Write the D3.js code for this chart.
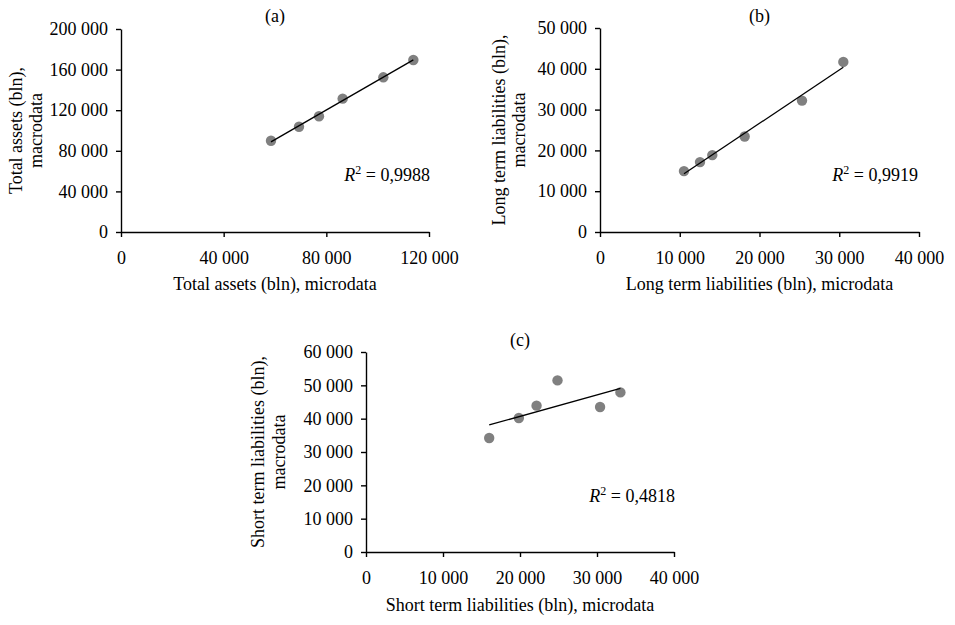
<!DOCTYPE html>
<html>
<head>
<meta charset="utf-8">
<script src="https://cdn.jsdelivr.net/npm/d3@7"></script>
<style>
  body { margin: 0; background: #fff; }
  svg { display: block; }
</style>
</head>
<body>
<svg id="chart" width="955" height="625"></svg>
<script>
// (a) Total assets (bln): microdata vs macrodata
const assetsMicro = [58440, 69350, 77140, 86360, 102200, 113900];
const assetsMacro = [89950, 103700, 114000, 131400, 152400, 169500];
const assetsR2 = "0,9988";
const assetsXTicks = [0, 40000, 80000, 120000];
const assetsYTicks = [0, 40000, 80000, 120000, 160000, 200000];

// (b) Long term liabilities (bln)
const longMicro = [10530, 12540, 14080, 18140, 25330, 30510];
const longMacro = [14930, 17130, 18845, 23400, 32210, 41680];
const longR2 = "0,9919";
const longXTicks = [0, 10000, 20000, 30000, 40000];
const longYTicks = [0, 10000, 20000, 30000, 40000, 50000];

// (c) Short term liabilities (bln)
const shortMicro = [16000, 19850, 22150, 24870, 30400, 33040];
const shortMacro = [34200, 40200, 43900, 51480, 43500, 47880];
const shortR2 = "0,4818";
const shortXTicks = [0, 10000, 20000, 30000, 40000];
const shortYTicks = [0, 10000, 20000, 30000, 40000, 50000, 60000];

const panelLabels = ["(a)", "(b)", "(c)"];
const xTitles = [
  "Total assets (bln), microdata",
  "Long term liabilities (bln), microdata",
  "Short term liabilities (bln), microdata"
];
const yTitles = [
  ["Total assets (bln),", "macrodata"],
  ["Long term liabilities (bln),", "macrodata"],
  ["Short term liabilities (bln),", "macrodata"]
];

const FONT = "'Liberation Serif', 'Times New Roman', serif";
const FS = 18;
const locale = d3.formatLocale({ decimal: ",", thousands: " ", grouping: [3], currency: ["", ""] });
const fmt = locale.format(",d");

// Plot-area frames for the three panels
const panels = [
  { x: assetsMicro, y: assetsMacro, r2: assetsR2, xt: assetsXTicks, yt: assetsYTicks,
    left: 121, right: 429, top: 29, bottom: 232, yTitleX: [22, 42], xTitleY: 290, titleY: 22, r2Pos: [430, 181] },
  { x: longMicro, y: longMacro, r2: longR2, xt: longXTicks, yt: longYTicks,
    left: 600, right: 919, top: 28, bottom: 232, yTitleX: [505, 525], xTitleY: 290, titleY: 22, r2Pos: [918, 181] },
  { x: shortMicro, y: shortMacro, r2: shortR2, xt: shortXTicks, yt: shortYTicks,
    left: 366, right: 674, top: 352, bottom: 552, yTitleX: [264, 285], xTitleY: 611, titleY: 346, r2Pos: [675, 502] }
];

const svg = d3.select("#chart")
  .attr("font-family", FONT)
  .attr("font-size", FS);

function fitLine(xs, ys) {
  const mx = d3.mean(xs), my = d3.mean(ys);
  let sxy = 0, sxx = 0;
  xs.forEach((x, i) => { sxy += (x - mx) * (ys[i] - my); sxx += (x - mx) * (x - mx); });
  const b = sxy / sxx;
  return x => my + b * (x - mx);
}

panels.forEach((p, idx) => {
  const g = svg.append("g");
  const xs = d3.scaleLinear().domain(d3.extent(p.xt)).range([p.left, p.right]);
  const ys = d3.scaleLinear().domain(d3.extent(p.yt)).range([p.bottom, p.top]);

  // axes
  const xAxis = d3.axisBottom(xs).tickValues(p.xt).tickFormat(fmt)
    .tickSizeInner(5).tickSizeOuter(0).tickPadding(14);
  const yAxis = d3.axisLeft(ys).tickValues(p.yt).tickFormat(fmt)
    .tickSizeInner(5).tickSizeOuter(0).tickPadding(8);

  const gx = g.append("g").attr("transform", `translate(0,${p.bottom})`).call(xAxis);
  const gy = g.append("g").attr("transform", `translate(${p.left},0)`).call(yAxis);
  [gx, gy].forEach(a => {
    a.attr("font-family", FONT).attr("font-size", FS);
    a.selectAll("path, line").attr("stroke", "#000").attr("stroke-width", 1.4);
    a.selectAll("text").attr("fill", "#000");
  });

  // points
  const pts = p.x.map((v, i) => [v, p.y[i]]);
  g.append("g").selectAll("circle").data(pts).join("circle")
    .attr("cx", d => xs(d[0]))
    .attr("cy", d => ys(d[1]))
    .attr("r", 5.2)
    .attr("fill", "#808080");

  // linear trend line
  const f = fitLine(p.x, p.y);
  const [x0, x1] = d3.extent(p.x);
  g.append("line")
    .attr("x1", xs(x0)).attr("y1", ys(f(x0)))
    .attr("x2", xs(x1)).attr("y2", ys(f(x1)))
    .attr("stroke", "#000").attr("stroke-width", 1.3);

  // R² label
  const t = g.append("text")
    .attr("x", p.r2Pos[0]).attr("y", p.r2Pos[1])
    .attr("text-anchor", "end");
  t.append("tspan").attr("font-style", "italic").text("R");
  t.append("tspan").attr("font-size", 12).attr("dy", -7).text("2");
  t.append("tspan").attr("dy", 7).text(" = " + p.r2);

  // panel label
  g.append("text")
    .attr("x", (p.left + p.right) / 2).attr("y", p.titleY)
    .attr("text-anchor", "middle").text(panelLabels[idx]);

  // x title
  g.append("text")
    .attr("x", (p.left + p.right) / 2).attr("y", p.xTitleY)
    .attr("text-anchor", "middle").text(xTitles[idx]);

  // y title (two lines, rotated)
  const cy = (p.top + p.bottom) / 2;
  yTitles[idx].forEach((line, k) => {
    g.append("text")
      .attr("transform", `translate(${p.yTitleX[k]},${cy}) rotate(-90)`)
      .attr("text-anchor", "middle").text(line);
  });
});
</script>
</body>
</html>
